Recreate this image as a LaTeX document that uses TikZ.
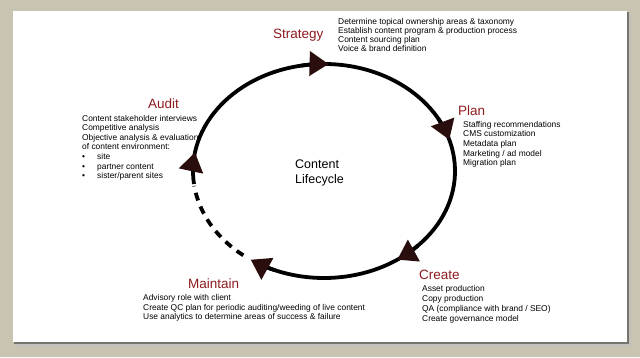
\documentclass[tikz,border=0pt]{standalone}
\usepackage{fontspec}
\setmainfont{Liberation Sans}
\usetikzlibrary{arrows.meta}
\definecolor{framebg}{HTML}{C9C3B1}
\definecolor{shadowc}{HTML}{77746C}
\definecolor{headc}{HTML}{8E1B1E}
\definecolor{tipc}{HTML}{2A0D0D}
\begin{document}
\begin{tikzpicture}[x=1pt,y=-1pt,
  heading/.style={font=\fontsize{13.5}{14}\selectfont, text=headc, inner sep=0pt, anchor=base west},
  body/.style={font=\fontsize{8.4}{#1}\selectfont, align=left, inner sep=0pt, anchor=base west},
  body/.default={9.6},
  centre/.style={font=\fontsize{12.5}{15}\selectfont, align=left, inner sep=0pt, anchor=base west},
  cyc/.style={line width=3.8pt, draw=black},
  dashcyc/.style={cyc, dash pattern=on 8pt off 6.5pt},
  tipd/.style={cyc, -{Triangle[length=19pt,width=24pt,color=tipc]}}]
% frame
\fill[framebg] (0,0) rectangle (640,357);
\useasboundingbox (0,0) rectangle (640,357);
\fill[shadowc!45] (15,13) rectangle (630.5,345.5);
\fill[shadowc] (14,12) rectangle (629,344);
\fill[white] (13,11) rectangle (627,342);
% cycle
\begin{scope}[shift={(324,171)}]
  \draw[cyc] (187:131pt and 107pt) arc[start angle=187, end angle=-116, x radius=131pt, y radius=107pt];
  \draw[dashcyc] (232:131pt and 107pt) arc[start angle=232, end angle=188, x radius=131pt, y radius=107pt];
  \draw[tipd] (100:131pt and 107pt) arc[start angle=100, end angle=88, x radius=131pt, y radius=107pt];
  \draw[tipd] (29:131pt and 107pt) arc[start angle=29, end angle=17, x radius=131pt, y radius=107pt];
  \draw[tipd] (-44:131pt and 107pt) arc[start angle=-44, end angle=-56, x radius=131pt, y radius=107pt];
  \draw[tipd] (-112:131pt and 107pt) arc[start angle=-112, end angle=-124, x radius=131pt, y radius=107pt];
  \draw[tipd] (182:131pt and 107pt) arc[start angle=182, end angle=170, x radius=131pt, y radius=107pt];
\end{scope}
% centre
\node[centre] (lifecycle) at (295,183) {Content\\Lifecycle};
% Strategy
\node[heading] (strategy) at (273,38) {Strategy};
\node[body=7.5] (strategytext) at (338,51) {Determine topical ownership areas \& taxonomy\\Establish content program \& production process\\Content sourcing plan\\Voice \& brand definition};
% Plan
\node[heading] (plan) at (458,115) {Plan};
\node[body=9.6] (plantext) at (463,165.7) {Staffing recommendations\\CMS customization\\Metadata plan\\Marketing / ad model\\Migration plan};
% Audit
\node[heading] (audit) at (148,108) {Audit};
\node[body=9.6] (audittext) at (82,178.6) {Content stakeholder interviews\\Competitive analysis\\Objective analysis \& evaluation\\of content environment:\\\makebox[15pt][l]{•}site\\\makebox[15pt][l]{•}partner content\\\makebox[15pt][l]{•}sister/parent sites};
% Create
\node[heading] (create) at (419,279) {Create};
\node[body=9.9] (createtext) at (422,321.4) {Asset production\\Copy production\\QA (compliance with brand / SEO)\\Create governance model};
% Maintain
\node[heading] (maintain) at (188,288) {Maintain};
\node[body=9.5] (maintaintext) at (143,319.7) {Advisory role with client\\Create QC plan for periodic auditing/weeding of live content\\Use analytics to determine areas of success \& failure};
\end{tikzpicture}
\end{document}
